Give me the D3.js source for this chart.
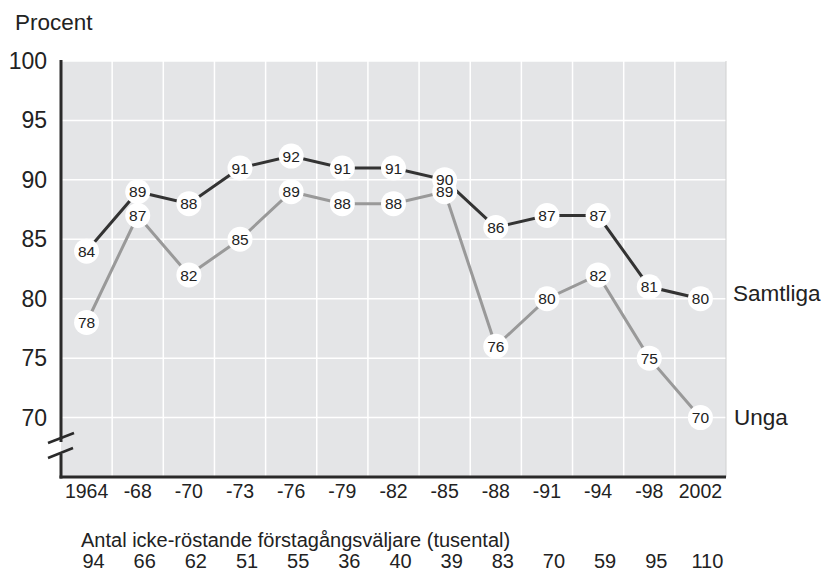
<!DOCTYPE html>
<html>
<head>
<meta charset="utf-8">
<script src="https://cdnjs.cloudflare.com/ajax/libs/d3/7.8.5/d3.min.js"></script>
<style>
  body { margin: 0; background: #fff; }
  svg { font-family: "Liberation Sans", Arial, sans-serif; }
</style>
</head>
<body>
<svg width="824" height="573"></svg>
<script>
// data
var years = ["1964", "-68", "-70", "-73", "-76", "-79", "-82", "-85", "-88", "-91", "-94", "-98", "2002"];
var samtliga = [84, 89, 88, 91, 92, 91, 91, 90, 86, 87, 87, 81, 80];
var unga = [78, 87, 82, 85, 89, 88, 88, 89, 76, 80, 82, 75, 70];
var ickeRostande = [94, 66, 62, 51, 55, 36, 40, 39, 83, 70, 59, 95, 110];
var yTicks = [70, 75, 80, 85, 90, 95, 100];

var svg = d3.select("svg");
var pLeft = 61, pRight = 726, pTop = 61, pBottom = 477;

var x = d3.scaleBand().domain(years).range([pLeft, pRight]);
var y = d3.scaleLinear().domain([65, 100]).range([pBottom, pTop]);
var cx = function (d, i) { return x(years[i]) + x.bandwidth() / 2; };

// plot background
svg.append("rect")
    .attr("x", pLeft).attr("y", pTop)
    .attr("width", pRight - pLeft).attr("height", pBottom - pTop)
    .attr("fill", "#e4e5e7");

// grid
svg.append("g").selectAll("line")
    .data(yTicks)
    .enter().append("line")
    .attr("x1", pLeft).attr("x2", pRight)
    .attr("y1", function (d) { return y(d); })
    .attr("y2", function (d) { return y(d); })
    .attr("stroke", "#fff").attr("stroke-width", 1.5);

svg.append("g").selectAll("line")
    .data(years.slice(1))
    .enter().append("line")
    .attr("x1", function (d) { return x(d); })
    .attr("x2", function (d) { return x(d); })
    .attr("y1", pTop).attr("y2", pBottom)
    .attr("stroke", "#fff").attr("stroke-width", 1.5);

svg.append("line")
    .attr("x1", pRight).attr("x2", pRight).attr("y1", pTop).attr("y2", pBottom)
    .attr("stroke", "#d0d0d0").attr("stroke-width", 1);

// y tick labels
svg.append("g").selectAll("text")
    .data(yTicks)
    .enter().append("text")
    .attr("x", 47).attr("y", function (d) { return y(d); })
    .attr("dy", "0.35em")
    .attr("text-anchor", "end")
    .attr("font-size", 23)
    .attr("fill", "#222")
    .text(function (d) { return d; });

svg.append("text")
    .attr("x", 15).attr("y", 30)
    .attr("font-size", 22.5).attr("fill", "#222")
    .text("Procent");

// axes with break
svg.append("line")
    .attr("x1", pLeft).attr("x2", pLeft).attr("y1", pTop - 1).attr("y2", 442)
    .attr("stroke", "#2a2a2a").attr("stroke-width", 3);
svg.append("line")
    .attr("x1", pLeft).attr("x2", pLeft).attr("y1", 454).attr("y2", pBottom + 1.5)
    .attr("stroke", "#2a2a2a").attr("stroke-width", 3);
svg.append("line")
    .attr("x1", pLeft - 1.5).attr("x2", pRight).attr("y1", pBottom).attr("y2", pBottom)
    .attr("stroke", "#2a2a2a").attr("stroke-width", 3);
[[48, 443, 74, 433], [48, 458, 73, 448]].forEach(function (b) {
    svg.append("line")
        .attr("x1", b[0]).attr("y1", b[1]).attr("x2", b[2]).attr("y2", b[3])
        .attr("stroke", "#2a2a2a").attr("stroke-width", 2.5);
});

// x tick labels
svg.append("g").selectAll("text")
    .data(years)
    .enter().append("text")
    .attr("x", function (d) { return x(d) + x.bandwidth() / 2; })
    .attr("y", 498)
    .attr("text-anchor", "middle")
    .attr("font-size", 19.5).attr("fill", "#222")
    .text(function (d) { return d; });

// lines
var line = d3.line()
    .x(cx)
    .y(function (d) { return y(d); });

svg.append("path").datum(samtliga)
    .attr("d", line).attr("fill", "none")
    .attr("stroke", "#333").attr("stroke-width", 3);
svg.append("path").datum(unga)
    .attr("d", line).attr("fill", "none")
    .attr("stroke", "#999").attr("stroke-width", 3);

// labelled points: circles first, then the numbers on top
var series = [samtliga, unga];
series.forEach(function (data) {
    svg.append("g").selectAll("circle")
        .data(data)
        .enter().append("circle")
        .attr("cx", cx)
        .attr("cy", function (d) { return y(d); })
        .attr("r", 12.5).attr("fill", "#fff");
});
series.forEach(function (data) {
    svg.append("g").selectAll("text")
        .data(data)
        .enter().append("text")
        .attr("x", cx)
        .attr("y", function (d) { return y(d); })
        .attr("text-anchor", "middle").attr("dy", "0.36em")
        .attr("font-size", 15.5).attr("fill", "#222")
        .text(function (d) { return d; });
});

// series labels
svg.append("text")
    .attr("x", 733).attr("y", y(samtliga[samtliga.length - 1]) - 6)
    .attr("dy", "0.35em").attr("font-size", 22.5).attr("fill", "#222")
    .text("Samtliga");
svg.append("text")
    .attr("x", 734).attr("y", y(unga[unga.length - 1]))
    .attr("dy", "0.35em").attr("font-size", 22.5).attr("fill", "#222")
    .text("Unga");

// bottom table
svg.append("text")
    .attr("x", 81).attr("y", 547)
    .attr("font-size", 20).attr("fill", "#222")
    .text("Antal icke-röstande förstagångsväljare (tusental)");
svg.append("g").selectAll("text")
    .data(ickeRostande)
    .enter().append("text")
    .attr("x", function (d, i) { return cx(d, i) + 7; })
    .attr("y", 568)
    .attr("text-anchor", "middle")
    .attr("font-size", 20).attr("fill", "#222")
    .text(function (d) { return d; });
</script>
</body>
</html>
